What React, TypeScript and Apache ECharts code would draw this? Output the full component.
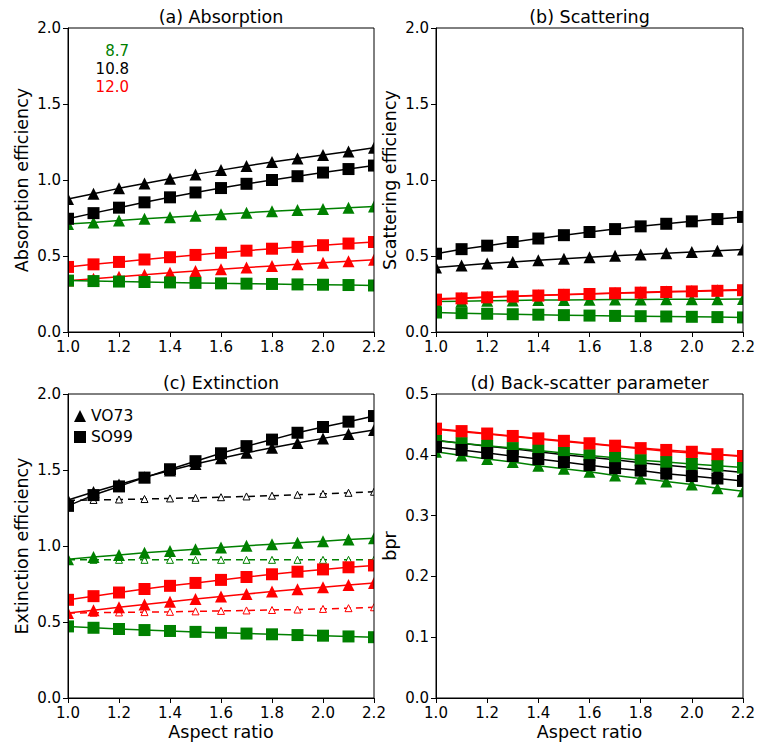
import React, { useEffect, useRef } from "react";
import * as echarts from "echarts";

const X = [1.0, 1.1, 1.2, 1.3, 1.4, 1.5, 1.6, 1.7, 1.8, 1.9, 2.0, 2.1, 2.2];

const wavelengths = ["8.7", "10.8", "12.0"];
const colors = ["#008000", "#000000", "#ff0000"];
const panelTitles = ["(a) Absorption", "(b) Scattering", "(c) Extinction", "(d) Back-scatter parameter"];
const yNames = ["Absorption efficiency", "Scattering efficiency", "Extinction efficiency", "bpr"];
const xName = "Aspect ratio";
const legendNames = ["VO73", "SO99"];

// (a) Absorption
const absVO73_87 = [0.71, 0.72, 0.733, 0.745, 0.755, 0.765, 0.775, 0.785, 0.794, 0.802, 0.81, 0.818, 0.826];
const absVO73_108 = [0.875, 0.91, 0.945, 0.977, 1.008, 1.037, 1.065, 1.092, 1.118, 1.142, 1.165, 1.188, 1.212];
const absVO73_120 = [0.338, 0.351, 0.364, 0.377, 0.389, 0.401, 0.413, 0.424, 0.435, 0.446, 0.456, 0.466, 0.476];
const absSO99_87 = [0.338, 0.335, 0.332, 0.329, 0.326, 0.323, 0.32, 0.318, 0.316, 0.313, 0.311, 0.309, 0.306];
const absSO99_108 = [0.745, 0.782, 0.818, 0.853, 0.886, 0.918, 0.947, 0.975, 1.0, 1.025, 1.049, 1.072, 1.095];
const absSO99_120 = [0.428, 0.445, 0.461, 0.477, 0.492, 0.507, 0.521, 0.535, 0.548, 0.56, 0.571, 0.582, 0.592];

// (b) Scattering
const scaVO73_87 = [0.2, 0.203, 0.206, 0.208, 0.21, 0.211, 0.212, 0.213, 0.214, 0.215, 0.216, 0.216, 0.217];
const scaVO73_108 = [0.425, 0.438, 0.45, 0.461, 0.472, 0.482, 0.492, 0.501, 0.51, 0.518, 0.526, 0.534, 0.542];
const scaVO73_120 = [0.218, 0.224, 0.23, 0.236, 0.241, 0.246, 0.251, 0.256, 0.261, 0.266, 0.27, 0.275, 0.279];
const scaSO99_87 = [0.128, 0.124, 0.12, 0.117, 0.114, 0.111, 0.108, 0.106, 0.104, 0.102, 0.1, 0.098, 0.096];
const scaSO99_108 = [0.515, 0.545, 0.568, 0.592, 0.615, 0.637, 0.658, 0.677, 0.695, 0.712, 0.728, 0.743, 0.757];
const scaSO99_120 = [0.213, 0.221, 0.228, 0.234, 0.24, 0.245, 0.25, 0.255, 0.259, 0.263, 0.267, 0.271, 0.275];

// (c) Extinction
const extVO73_87 = [0.913, 0.927, 0.941, 0.955, 0.967, 0.979, 0.99, 1.001, 1.012, 1.022, 1.032, 1.042, 1.051];
const extVO73_108 = [1.303, 1.355, 1.405, 1.452, 1.497, 1.54, 1.578, 1.613, 1.647, 1.678, 1.708, 1.737, 1.763];
const extVO73_120 = [0.559, 0.578, 0.597, 0.615, 0.633, 0.651, 0.668, 0.684, 0.7, 0.715, 0.729, 0.743, 0.756];
const extSO99_87 = [0.471, 0.462, 0.454, 0.447, 0.441, 0.435, 0.429, 0.424, 0.419, 0.414, 0.41, 0.405, 0.4];
const extSO99_108 = [1.264, 1.335, 1.392, 1.45, 1.505, 1.558, 1.61, 1.657, 1.7, 1.745, 1.783, 1.818, 1.855];
const extSO99_120 = [0.646, 0.67, 0.694, 0.717, 0.738, 0.757, 0.777, 0.796, 0.814, 0.831, 0.846, 0.86, 0.872];
const extDash_87 = [0.91, 0.909, 0.909, 0.909, 0.909, 0.909, 0.909, 0.909, 0.909, 0.909, 0.909, 0.909, 0.909];
const extDash_108 = [1.3, 1.303, 1.306, 1.309, 1.313, 1.317, 1.321, 1.326, 1.331, 1.337, 1.343, 1.35, 1.357];
const extDash_120 = [0.559, 0.561, 0.563, 0.565, 0.567, 0.57, 0.573, 0.576, 0.579, 0.582, 0.586, 0.591, 0.597];

// (d) Back-scatter parameter
const bprVO73_87 = [0.405, 0.399, 0.393, 0.388, 0.382, 0.377, 0.372, 0.366, 0.361, 0.356, 0.351, 0.345, 0.34];
const bprVO73_108 = [0.424, 0.419, 0.414, 0.41, 0.405, 0.4, 0.396, 0.392, 0.387, 0.383, 0.379, 0.375, 0.371];
const bprVO73_120 = [0.442, 0.438, 0.434, 0.43, 0.426, 0.422, 0.418, 0.414, 0.41, 0.406, 0.403, 0.4, 0.397];
const bprSO99_87 = [0.423, 0.419, 0.415, 0.411, 0.407, 0.403, 0.399, 0.395, 0.391, 0.388, 0.385, 0.382, 0.379];
const bprSO99_108 = [0.413, 0.408, 0.403, 0.398, 0.393, 0.388, 0.383, 0.378, 0.374, 0.369, 0.365, 0.361, 0.357];
const bprSO99_120 = [0.443, 0.439, 0.435, 0.431, 0.427, 0.423, 0.419, 0.415, 0.411, 0.408, 0.405, 0.401, 0.398];

const yMax = [2, 2, 2, 0.5];
const yInterval = [0.5, 0.5, 0.5, 0.1];

const FONT = "DejaVu Sans";

const pairs = (arr: number[]) => X.map((x, i) => [x, arr[i]]);

export default function App() {
  const ref = useRef<HTMLDivElement>(null);

  useEffect(() => {
    if (!ref.current) return;
    const chart = echarts.init(ref.current, null, { renderer: "svg" });

    const grids = [
      { left: 68, top: 28, width: 306, height: 304 },
      { left: 436, top: 28, width: 307, height: 304 },
      { left: 68, top: 394, width: 306, height: 304 },
      { left: 436, top: 394, width: 307, height: 304 },
    ];

    const tri = (name: string, arr: number[], color: string, gi: number) => ({
      name,
      type: "line",
      xAxisIndex: gi,
      yAxisIndex: gi,
      data: pairs(arr),
      symbol: "triangle",
      symbolSize: 12,
      lineStyle: { color, width: 1.5 },
      itemStyle: { color },
      z: 3,
    });
    const sq = (name: string, arr: number[], color: string, gi: number) => ({
      name,
      type: "line",
      xAxisIndex: gi,
      yAxisIndex: gi,
      data: pairs(arr),
      symbol: "rect",
      symbolSize: 12,
      lineStyle: { color, width: 1.5 },
      itemStyle: { color },
      z: 4,
    });
    const dash = (name: string, arr: number[], color: string, gi: number) => ({
      name,
      type: "line",
      xAxisIndex: gi,
      yAxisIndex: gi,
      data: pairs(arr),
      symbol: "triangle",
      symbolSize: 7,
      showAllSymbol: true,
      lineStyle: { color, width: 1.5, type: [7, 5] },
      itemStyle: { color: "#ffffff", borderColor: color, borderWidth: 1 },
      z: 2,
    });

    const panels = [
      [[absVO73_87, absVO73_108, absVO73_120], [absSO99_87, absSO99_108, absSO99_120]],
      [[scaVO73_87, scaVO73_108, scaVO73_120], [scaSO99_87, scaSO99_108, scaSO99_120]],
      [[extVO73_87, extVO73_108, extVO73_120], [extSO99_87, extSO99_108, extSO99_120]],
      [[bprVO73_87, bprVO73_108, bprVO73_120], [bprSO99_87, bprSO99_108, bprSO99_120]],
    ];
    const dashed = [extDash_87, extDash_108, extDash_120];

    const series: any[] = [];
    panels.forEach((p, gi) => {
      if (gi === 2) {
        dashed.forEach((arr, k) => series.push(dash(`ref-${wavelengths[k]}`, arr, colors[k], gi)));
      }
      p[0].forEach((arr, k) => series.push(tri(`VO73-${wavelengths[k]}-${gi}`, arr, colors[k], gi)));
      p[1].forEach((arr, k) => series.push(sq(`SO99-${wavelengths[k]}-${gi}`, arr, colors[k], gi)));
    });
    // legend-only series
    series.push({
      name: legendNames[0], type: "line", xAxisIndex: 2, yAxisIndex: 2, data: [],
      symbol: "triangle", itemStyle: { color: "#000" }, lineStyle: { color: "#000" },
    });
    series.push({
      name: legendNames[1], type: "line", xAxisIndex: 2, yAxisIndex: 2, data: [],
      symbol: "rect", itemStyle: { color: "#000" }, lineStyle: { color: "#000" },
    });

    const xAxes = grids.map((_, gi) => ({
      type: "value",
      gridIndex: gi,
      min: 1.0,
      max: 2.2,
      interval: 0.2,
      z: 6,
      name: gi >= 2 ? xName : "",
      nameLocation: "middle",
      nameGap: 25,
      nameTextStyle: { fontFamily: FONT, fontSize: 17.5, color: "#000" },
      axisLine: { show: true, onZero: false, lineStyle: { color: "#000", width: 1 } },
      axisTick: { show: true, length: 5, lineStyle: { color: "#000", width: 1 } },
      axisLabel: {
        fontFamily: FONT, fontSize: 15, color: "#000", margin: 7,
        formatter: (v: number) => v.toFixed(1),
      },
      splitLine: { show: false },
    }));

    const yAxes = grids.map((_, gi) => ({
      type: "value",
      gridIndex: gi,
      min: 0,
      max: yMax[gi],
      interval: yInterval[gi],
      z: 6,
      name: yNames[gi],
      nameLocation: "middle",
      nameGap: 37,
      nameRotate: 90,
      nameTextStyle: { fontFamily: FONT, fontSize: 17.5, color: "#000" },
      axisLine: { show: true, onZero: false, lineStyle: { color: "#000", width: 1 } },
      axisTick: { show: true, length: 5, lineStyle: { color: "#000", width: 1 } },
      axisLabel: {
        fontFamily: FONT, fontSize: 15, color: "#000", margin: 7,
        formatter: (v: number) => v.toFixed(1),
      },
      splitLine: { show: false },
    }));

    const titleCenters = [
      { x: 221, y: 8 },
      { x: 589.5, y: 8 },
      { x: 221, y: 374 },
      { x: 589.5, y: 374 },
    ];

    // white masks just outside each plot box, so markers are clipped at the frame
    const M = 9;
    const masks: any[] = [];
    grids.forEach((g) => {
      const r = g.left + g.width;
      const b = g.top + g.height;
      const fill = { fill: "#ffffff" };
      masks.push({ type: "rect", z: 5, silent: true, shape: { x: g.left - M, y: g.top - M, width: M, height: g.height + 2 * M }, style: fill });
      masks.push({ type: "rect", z: 5, silent: true, shape: { x: r, y: g.top - M, width: M, height: g.height + 2 * M }, style: fill });
      masks.push({ type: "rect", z: 5, silent: true, shape: { x: g.left, y: g.top - M, width: g.width, height: M }, style: fill });
      masks.push({ type: "rect", z: 5, silent: true, shape: { x: g.left, y: b, width: g.width, height: M }, style: fill });
    });

    const option: any = {
      animation: false,
      backgroundColor: "#ffffff",
      title: panelTitles.map((t, i) => ({
        text: t,
        left: titleCenters[i].x,
        top: titleCenters[i].y,
        textAlign: "center",
        padding: 0,
        z: 8,
        textStyle: { fontFamily: FONT, fontSize: 17.5, fontWeight: "normal", color: "#000" },
      })),
      grid: grids.map((g) => ({
        ...g,
        show: true,
        z: 7,
        borderColor: "#000",
        borderWidth: 1,
        backgroundColor: "transparent",
        containLabel: false,
      })),
      xAxis: xAxes,
      yAxis: yAxes,
      legend: {
        data: [
          { name: legendNames[0], icon: "triangle" },
          { name: legendNames[1], icon: "rect" },
        ],
        orient: "vertical",
        left: 74,
        top: 408,
        padding: 0,
        itemWidth: 12,
        itemHeight: 12,
        itemGap: 5,
        textStyle: { fontFamily: FONT, fontSize: 15.5, color: "#000" },
        selectedMode: false,
      },
      graphic: [
        ...masks,
        ...wavelengths.map((w, k) => ({
          type: "text",
          x: 129,
          y: 51 + k * 18,
          z: 8,
          style: {
            text: w,
            fill: colors[k],
            font: `15px ${FONT}`,
            textAlign: "right",
            textVerticalAlign: "middle",
          },
        })),
      ],
      series,
    };

    chart.setOption(option);
    return () => chart.dispose();
  }, []);

  return (
    <div
      ref={ref}
      style={{ position: "fixed", left: 0, top: 0, width: 758, height: 746, background: "#fff" }}
    />
  );
}
